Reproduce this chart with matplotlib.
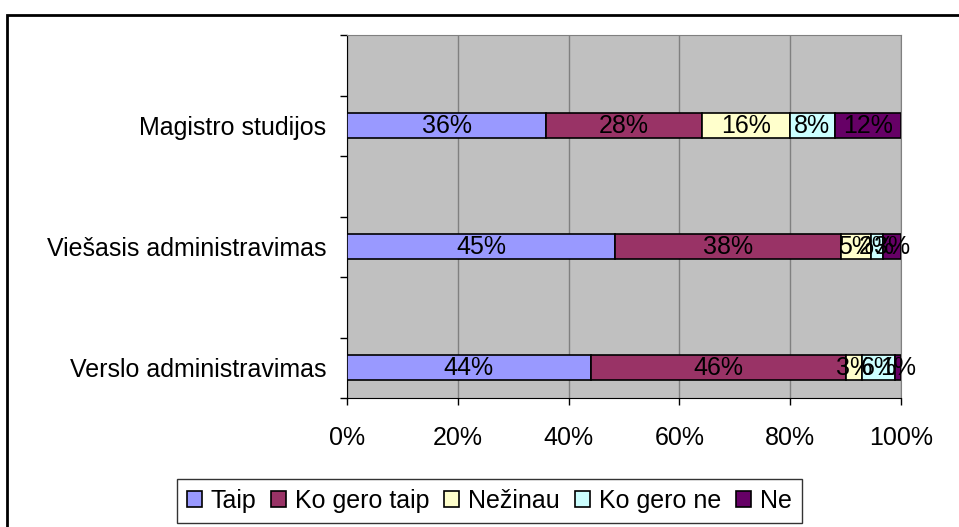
import numpy as np
import matplotlib
matplotlib.use("Agg")
import matplotlib.pyplot as plt
from matplotlib.patches import Rectangle

plt.rcParams['font.family'] = ['Liberation Sans', 'DejaVu Sans']

# categories (bottom to top) and answer shares, in %
categories = ['Verslo administravimas', 'Viešasis administravimas', 'Magistro studijos']
answers = ['Taip', 'Ko gero taip', 'Nežinau', 'Ko gero ne', 'Ne']
taip = [44, 45, 36]
ko_gero_taip = [46, 38, 28]
nezinau = [3, 5, 16]
ko_gero_ne = [6, 2, 8]
ne = [1, 3, 12]
colors = ['#9999FF', '#993366', '#FFFFCC', '#CCFFFF', '#660066']
xticks = [0, 0.2, 0.4, 0.6, 0.8, 1.0]
xlabels = ['0%', '20%', '40%', '60%', '80%', '100%']

series = np.array([taip, ko_gero_taip, nezinau, ko_gero_ne, ne], dtype=float)
totals = series.sum(axis=0)
shares = series / totals

fs = 18

fig = plt.figure(figsize=(9.59, 5.27), dpi=100)
ax = fig.add_axes([347/959, 1-398/527, 554/959, 363/527])
ax.set_facecolor('#C0C0C0')

ypos = np.array([0, 2, 4])
left = np.zeros(3)
for i, name in enumerate(answers):
    ax.barh(ypos, shares[i], left=left, height=0.42, color=colors[i],
            edgecolor='black', linewidth=1.2, label=name, zorder=3)
    for y, l, w, v in zip(ypos, left, shares[i], series[i]):
        ax.text(l + w/2, y, '%d%%' % v, ha='center', va='center',
                fontsize=fs, color='black', zorder=4)
    left += shares[i]

ax.set_xlim(0, 1)
ax.set_ylim(-0.5, 5.5)
ax.set_xticks(xticks)
ax.set_xticklabels(xlabels, fontsize=fs)
ax.set_yticks(ypos)
ax.set_yticklabels(categories, fontsize=fs)
ax.set_yticks(np.arange(-0.5, 6, 1), minor=True)
ax.tick_params(axis='y', which='major', length=0, pad=15)
ax.tick_params(axis='y', which='minor', length=5, width=1, direction='out')
ax.tick_params(axis='x', which='major', length=5, width=1, direction='out', pad=15)
ax.grid(axis='x', color='#808080', linewidth=1, zorder=0)
ax.set_axisbelow(True)
for s in ['top', 'right']:
    ax.spines[s].set_color('#808080')
for s in ['left', 'bottom']:
    ax.spines[s].set_color('black')

# outer frame of the chart
fig.patches.append(Rectangle((7/959, -0.1), 1.1, 1-15/527+0.1, transform=fig.transFigure,
                             fill=False, edgecolor='black', linewidth=2, clip_on=False))

leg = fig.legend(loc='center', bbox_to_anchor=(0.51, 0.049), ncol=5, fontsize=fs,
                 frameon=True, fancybox=False, edgecolor='black', handlelength=0.6,
                 handleheight=0.6, handletextpad=0.35, columnspacing=0.6,
                 borderpad=0.4)
leg.get_frame().set_linewidth(1)

fig.savefig('out.png', dpi=100)
